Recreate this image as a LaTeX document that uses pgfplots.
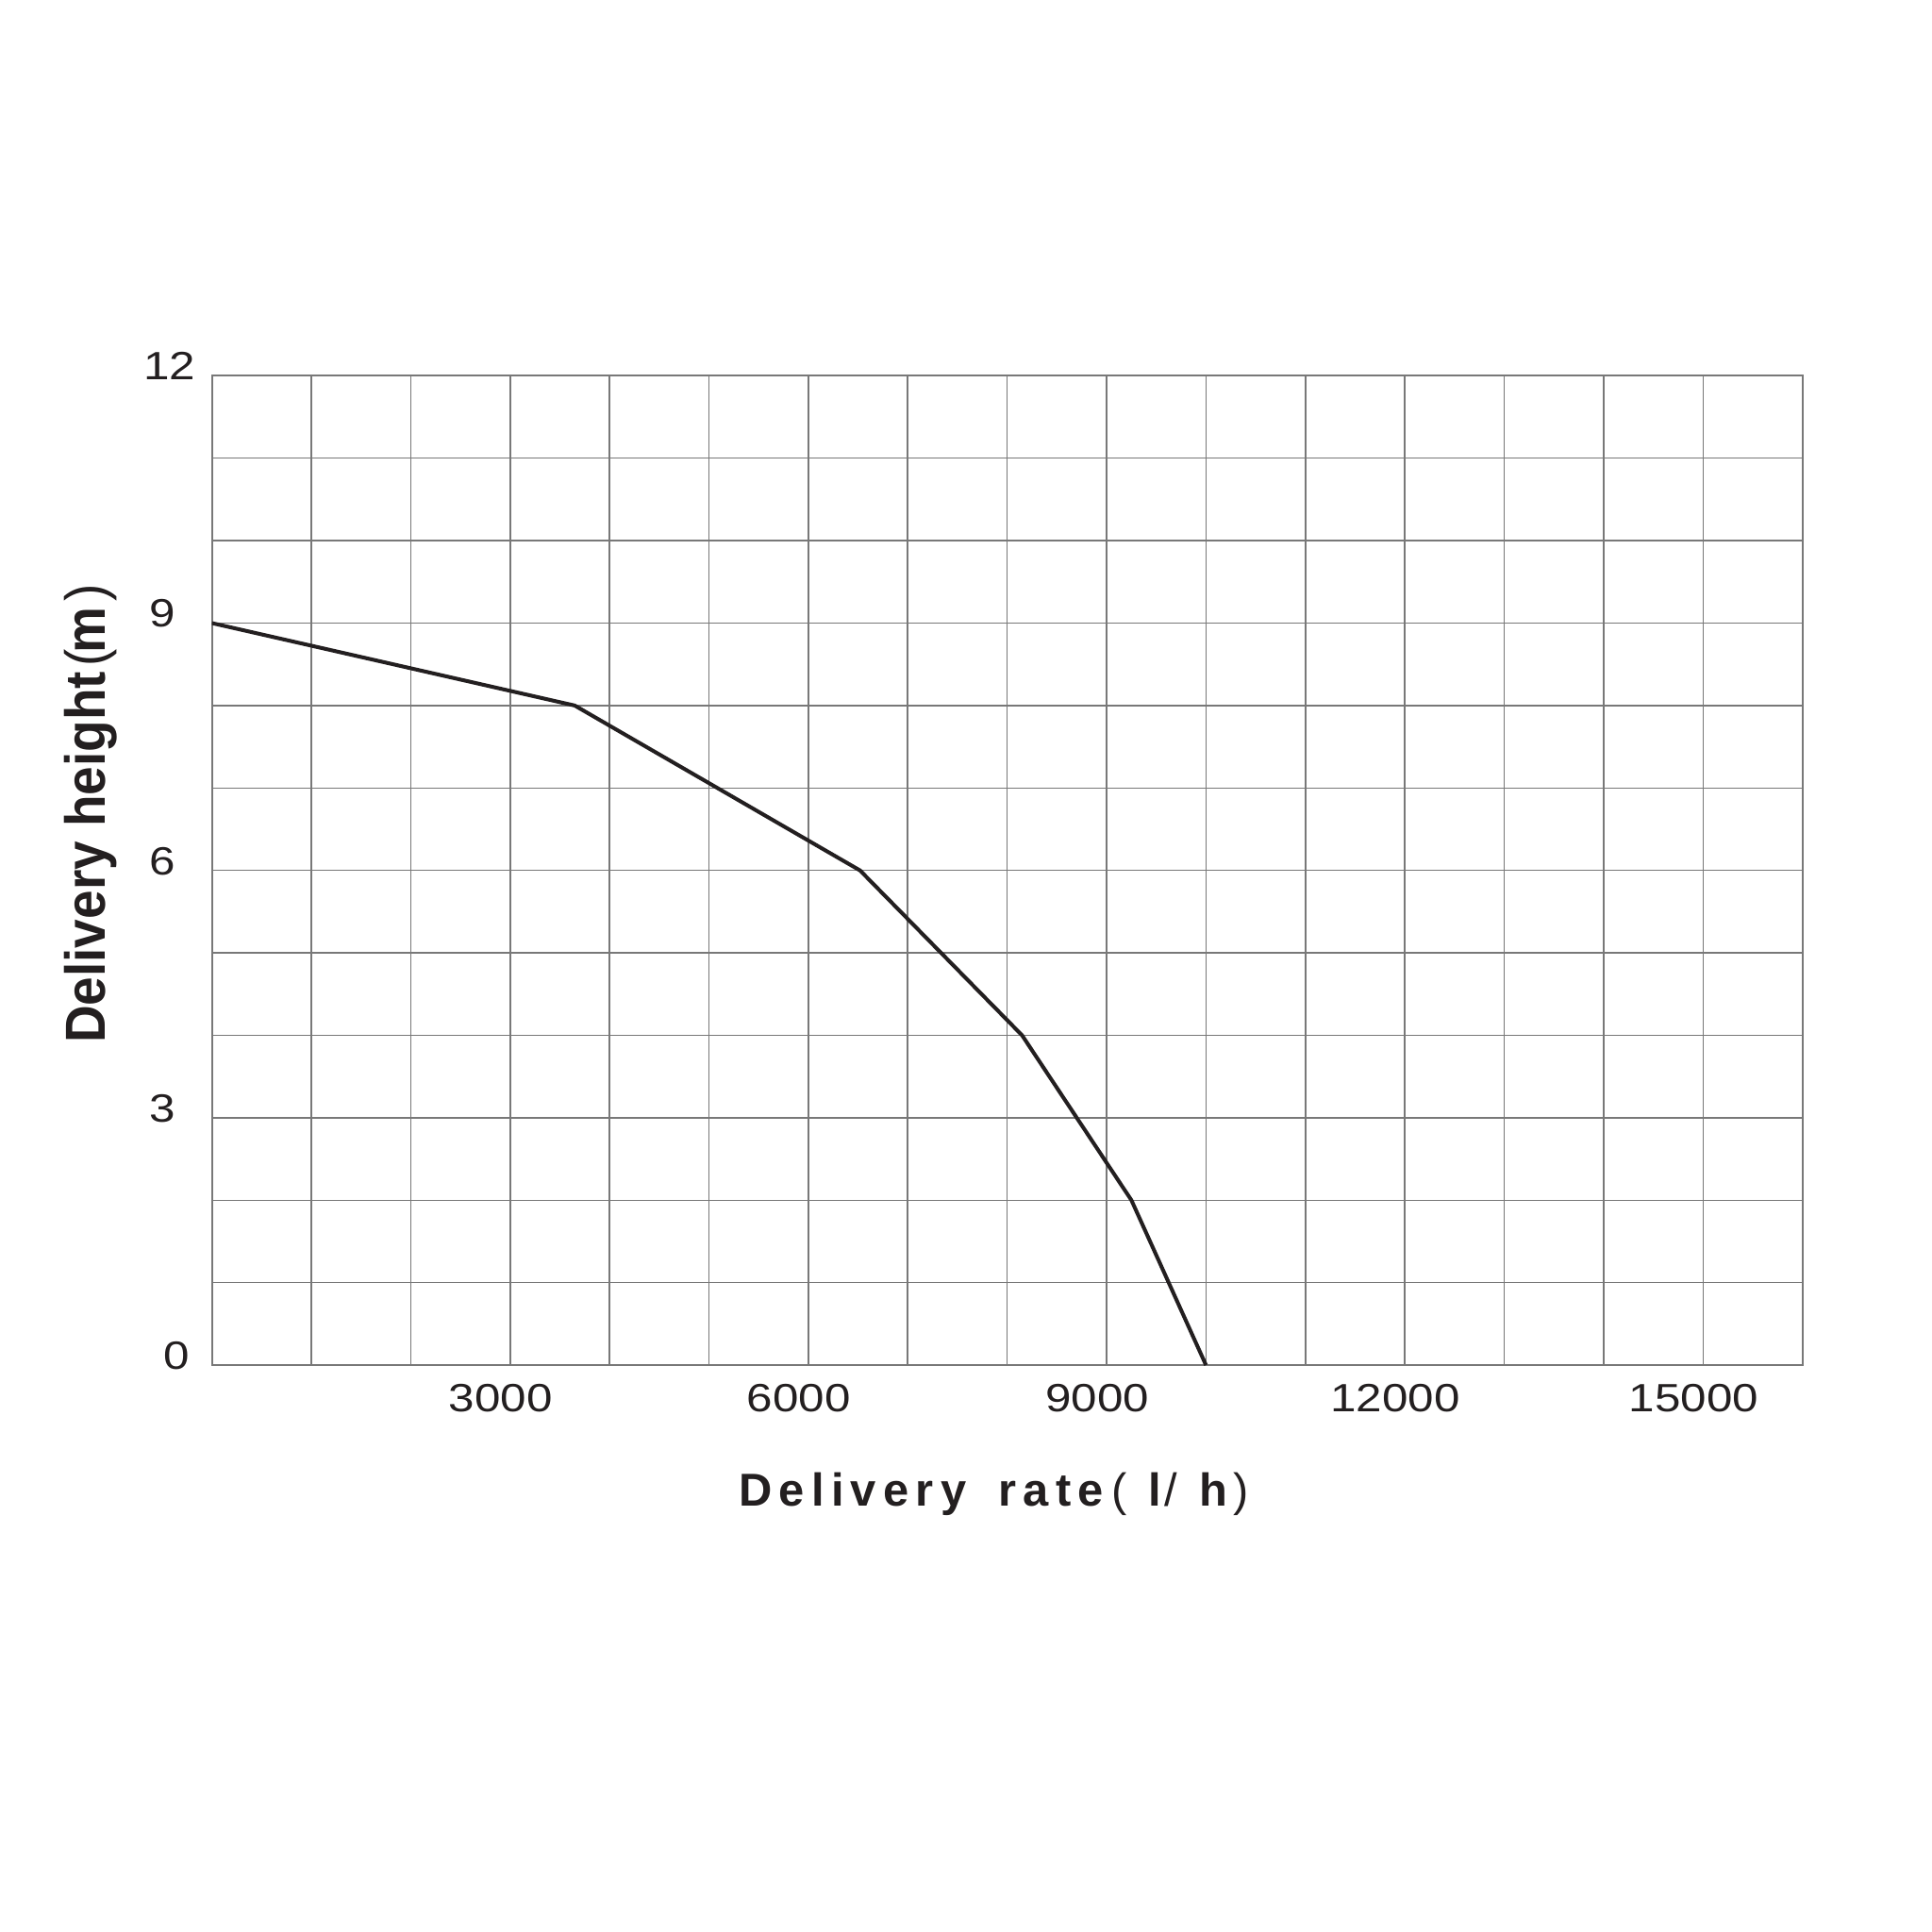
\documentclass[border=0pt]{standalone}
\usepackage{fontspec}
\setmainfont{Liberation Sans}
\newfontfamily\xlabfont[LetterSpace=15]{Liberation Sans}
\newfontfamily\ylabfont[FakeStretch=0.92]{Liberation Sans}
\newfontfamily\tickfont[FakeStretch=1.18]{Liberation Sans}
\usepackage{pgfplots}
\pgfplotsset{compat=1.18}
\definecolor{gridc}{RGB}{120,120,120}
\definecolor{linec}{RGB}{35,31,32}
\begin{document}
\begin{tikzpicture}[x=1cm,y=1cm]
\useasboundingbox (0,0) rectangle (20.48,20.48);
\begin{axis}[
  at={(2.246cm,6.009cm)}, anchor=south west,
  width=16.861cm, height=10.488cm, scale only axis,
  xmin=0, xmax=16000, ymin=0, ymax=12,
  scaled x ticks=false, scaled y ticks=false,
  xtick={0,1000,...,16000},
  xticklabels={,,,3000,,,6000,,,9000,,,12000,,,15000,},
  ytick={0,1,...,12},
  yticklabels={0\hspace{0.06cm}\mbox{},,,3\hspace{0.21cm}\mbox{},,,6\hspace{0.21cm}\mbox{},,,9\hspace{0.21cm}\mbox{},,,\raisebox{-0.035cm}{12}},
  major tick length=0pt,
  grid=major,
  grid style={gridc, line width=0.45pt},
  axis line style={gridc, line width=0.6pt},
  /pgf/number format/assume math mode=true,
  tick label style={font=\fontsize{11.9}{14}\selectfont\tickfont, text=linec},
  xticklabel style={yshift=-0.08cm, xshift=-0.1cm},
  yticklabel style={yshift=0.1cm, xshift=-0.05cm},
  xlabel={\fontsize{13.9}{16}\selectfont\bfseries\xlabfont Delivery\hspace{0.13cm} rate\hspace{0.09cm}{\mdseries (}\hspace{0.22cm}l\hspace{0.04cm}{\mdseries /}\hspace{0.23cm}h\hspace{0.065cm}{\mdseries )}},
  ylabel={\fontsize{17}{20}\selectfont\bfseries\ylabfont Delivery height\hspace{0.055cm}{\mdseries (}\hspace{-0.04cm}m\hspace{0.06cm}{\mdseries )}},
  xlabel style={at={(axis description cs:0.4916,-0.142)}, anchor=base, text=linec},
  ylabel style={at={(axis description cs:-0.0668,0.5575)}, anchor=base, text=linec},
]
\addplot[linec, line width=1.15pt, mark=none] coordinates {
  (0,9) (3650,8) (6520,6) (8150,4) (9250,2) (10000,0)
};
\end{axis}
\end{tikzpicture}
\end{document}
